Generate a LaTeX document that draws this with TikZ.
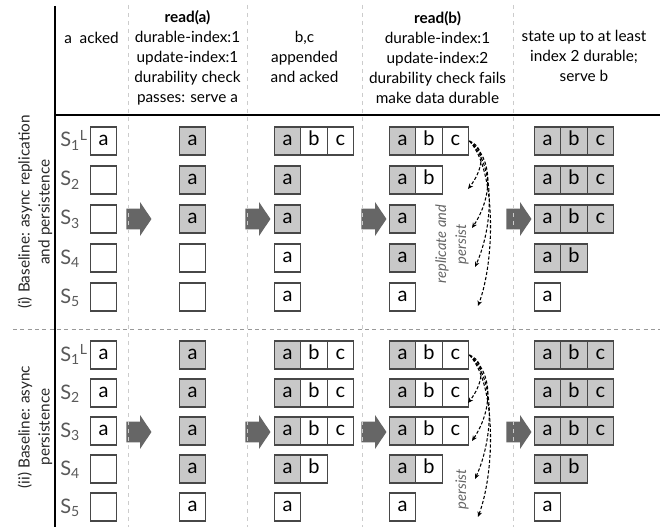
\documentclass[tikz,border=0pt]{standalone}
\usepackage{fontspec}
\setmainfont{Lato}
\usetikzlibrary{shapes.arrows,arrows.meta,positioning}

\def\cellw{19.875pt}
\def\cellh{21pt}

\definecolor{durable}{HTML}{C8C8C8}
\definecolor{cellline}{HTML}{474747}
\definecolor{fatgray}{HTML}{666666}
\definecolor{gridgray}{HTML}{CCCCCC}

\begin{document}
\begin{tikzpicture}[x=0.75pt,y=-0.75pt,font=\fontsize{11.5}{15}\selectfont]
    \tikzstyle{cell}=[draw=cellline,line width=1.1pt,minimum width=\cellw,minimum height=\cellh,inner sep=0pt,text height=0.72em,text depth=0pt,font=\fontsize{15}{15}\selectfont]
    \tikzstyle{fat arrow}=[single arrow,fill=fatgray,minimum height=18.75pt,inner xsep=0pt,inner ysep=7.5pt,single arrow head extend=4.9pt,single arrow tip angle=112]
    \tikzstyle{server}=[anchor=base west,inner sep=0pt,text=black!65,font=\fontsize{15}{15}\selectfont]
    \tikzstyle{header}=[align=center,inner sep=0pt]
    \tikzstyle{panel}=[rotate=90,align=center,inner sep=0pt,text=black!85]
    \tikzstyle{grid}=[gridgray,line width=0.75pt,dash pattern=on 3pt off 3pt]
    \tikzstyle{sep}=[black!40,line width=0.75pt,dash pattern=on 3pt off 2.5pt]
    \tikzstyle{flush}=[line width=0.8pt,dash pattern=on 2.4pt off 1.5pt,-{Stealth[length=4pt,width=3.5pt]}]
    \tikzstyle{flush label}=[rotate=90,align=center,inner sep=0pt,text=black!60,font=\fontsize{11}{15}\selectfont\itshape]

    \useasboundingbox (0,0) rectangle (660,527);

    % Column headers
    \node[header] (h1) at (91.5,38) {a~~acked};
    \node[header] (h2) at (187.5,58) {\textbf{read(a)}\\durable-index:1\\update-index:1\\durability check\\passes: serve a};
    \node[header] (h3) at (304.5,57) {b,c\\appended\\and acked};
    \node[header] (h4) at (437.5,58) {\textbf{read(b)}\\durable-index:1\\update-index:2\\durability check fails\\make data durable};
    \node[header] (h5) at (584,56) {state up to at least\\index 2 durable;\\serve b};

    % Panel titles
    \node[panel] (lab-i) at (35,212) {(i) Baseline: async replication\\and persistence};
    \node[panel] (lab-ii) at (35,427) {(ii) Baseline: async\\persistence};

    % Server names
    \foreach \r in {1,...,5} {
        \pgfmathsetmacro\ry{141+(\r-1)*39}
        \node[server] (i-s\r) at (60,\ry+6) {S\textsubscript{\r}\ifnum\r=1 \textsuperscript{L}\fi};
        \pgfmathsetmacro\ry{355+(\r-1)*38}
        \node[server] (ii-s\r) at (60,\ry+6) {S\textsubscript{\r}\ifnum\r=1 \textsuperscript{L}\fi};
    }

    % Logs of panel (i): column/row/{entry/fill,...}
    \foreach \c/\r/\cells in {
        1/1/{a/white}, 1/2/{{}/white}, 1/3/{{}/white}, 1/4/{{}/white}, 1/5/{{}/white},
        2/1/{a/durable}, 2/2/{a/durable}, 2/3/{a/durable}, 2/4/{{}/white}, 2/5/{{}/white},
        3/1/{a/durable,b/white,c/white}, 3/2/{a/durable}, 3/3/{a/durable}, 3/4/{a/white}, 3/5/{a/white},
        4/1/{a/durable,b/white,c/white}, 4/2/{a/durable,b/white}, 4/3/{a/durable}, 4/4/{a/durable}, 4/5/{a/white},
        5/1/{a/durable,b/durable,c/durable}, 5/2/{a/durable,b/durable,c/durable}, 5/3/{a/durable,b/durable,c/durable},
        5/4/{a/durable,b/durable}, 5/5/{a/white}} {
        \pgfmathsetmacro\cx{{103.5,192.5,287.5,402.5,547.5}[\c-1]}
        \pgfmathsetmacro\ry{141+(\r-1)*39}
        \foreach \t/\f [count=\k] in \cells
            \node[cell,fill=\f] (i-\c-\r-\k) at ({\cx+(\k-1)*26.5},\ry) {\t};
    }

    % Logs of panel (ii)
    \foreach \c/\r/\cells in {
        1/1/{a/white}, 1/2/{a/white}, 1/3/{a/white}, 1/4/{{}/white}, 1/5/{{}/white},
        2/1/{a/durable}, 2/2/{a/durable}, 2/3/{a/durable}, 2/4/{a/durable}, 2/5/{a/white},
        3/1/{a/durable,b/white,c/white}, 3/2/{a/durable,b/white,c/white}, 3/3/{a/durable,b/white,c/white},
        3/4/{a/durable,b/white}, 3/5/{a/white},
        4/1/{a/durable,b/white,c/white}, 4/2/{a/durable,b/white,c/white}, 4/3/{a/durable,b/white,c/white},
        4/4/{a/durable,b/white}, 4/5/{a/white},
        5/1/{a/durable,b/durable,c/durable}, 5/2/{a/durable,b/durable,c/durable}, 5/3/{a/durable,b/durable,c/durable},
        5/4/{a/durable,b/durable}, 5/5/{a/white}} {
        \pgfmathsetmacro\cx{{103.5,192.5,287.5,402.5,547.5}[\c-1]}
        \pgfmathsetmacro\ry{355+(\r-1)*38}
        \foreach \t/\f [count=\k] in \cells
            \node[cell,fill=\f] (ii-\c-\r-\k) at ({\cx+(\k-1)*26.5},\ry) {\t};
    }

    % Steps between the columns
    \foreach \x [count=\n] in {135.5,254.5,370.5,515.5} {
        \node[fat arrow] (i-go-\n) at (\x,219) {};
        \node[fat arrow] (ii-go-\n) at (\x,432) {};
    }

    % Frame
    \foreach \x in {128,247,362,513}
        \draw[grid] (\x,5) -- (\x,527);
    \draw[line width=0.8pt] (55,6) -- (55,527);
    \draw[line width=0.8pt] (55,115) -- (660,115);
    \draw[sep] (13,329) -- (660,329);

    % Making data durable from the leader
    \foreach \r/\dx in {2/468,3/472,4/475,5/478} {
        \coordinate (i-dst-\r) at (\dx,{141+(\r-1)*39+9});
        \coordinate (ii-dst-\r) at (\dx,{355+(\r-1)*38+10});
    }
    \draw[flush] (i-4-1-3.east) .. controls +(18,8) and +(14,-18) .. (i-dst-2);
    \draw[flush] (i-4-1-3.east) .. controls +(25,18) and +(20,-30) .. (i-dst-3);
    \draw[flush] (i-4-1-3.east) .. controls +(27,25) and +(18,-40) .. (i-dst-4);
    \draw[flush] (i-4-1-3.east) .. controls +(27,30) and +(17,-46) .. (i-dst-5);
    \draw[flush] (ii-4-1-3.east) .. controls +(18,8) and +(14,-18) .. (ii-dst-2);
    \draw[flush] (ii-4-1-3.east) .. controls +(25,18) and +(20,-30) .. (ii-dst-3);
    \draw[flush] (ii-4-1-3.east) .. controls +(27,25) and +(18,-40) .. (ii-dst-4);
    \draw[flush] (ii-4-1-3.east) .. controls +(27,30) and +(17,-46) .. (ii-dst-5);
    \node[flush label] (i-note) at (452,244) {replicate and\\persist};
    \node[flush label] (ii-note) at (462,489) {persist};
\end{tikzpicture}
\end{document}
